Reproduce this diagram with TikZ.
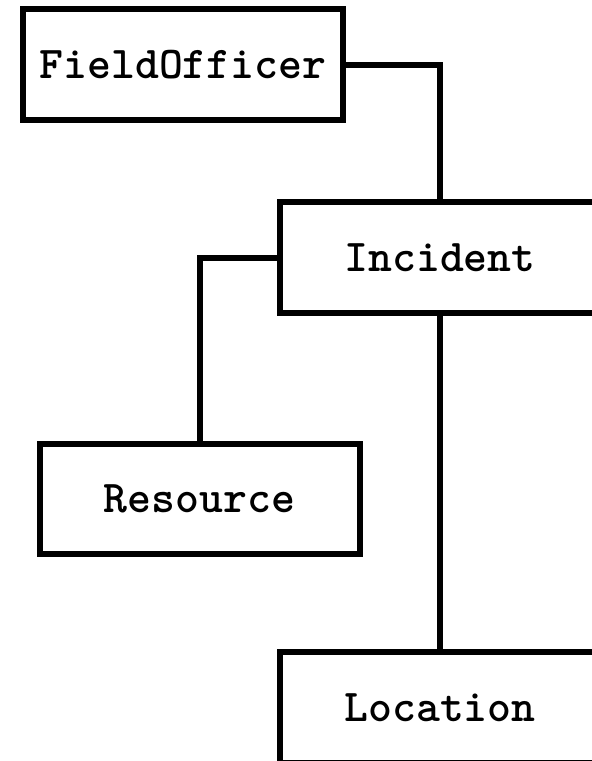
\documentclass[tikz,border=0pt]{standalone}
\usepackage{fontspec}
\begin{document}
\begin{tikzpicture}[x=1pt,y=-1pt,
  entity/.style={draw=black, line width=6pt, fill=white, rectangle, inner sep=0pt,
    minimum width=320pt, minimum height=111pt, font=\ttfamily\bfseries\fontsize{45.5}{52}\selectfont},
  link/.style={draw=black, line width=6pt, line join=miter}]
\clip (0,0) rectangle (592,761);
\fill[white] (0,0) rectangle (592,761);
\node[entity] (fo) at (183,64.5) {FieldOfficer};
\node[entity] (inc) at (440,257.5) {Incident};
\node[entity, minimum height=110pt] (res) at (199.5,498.5) {Resource};
\node[entity] (loc) at (440,707.5) {Location};
\draw[link] (fo.east) -| (inc.north);
\draw[link] (inc.west) -| (res.north);
\draw[link] (inc.south) -- (loc.north);
\end{tikzpicture}
\end{document}
